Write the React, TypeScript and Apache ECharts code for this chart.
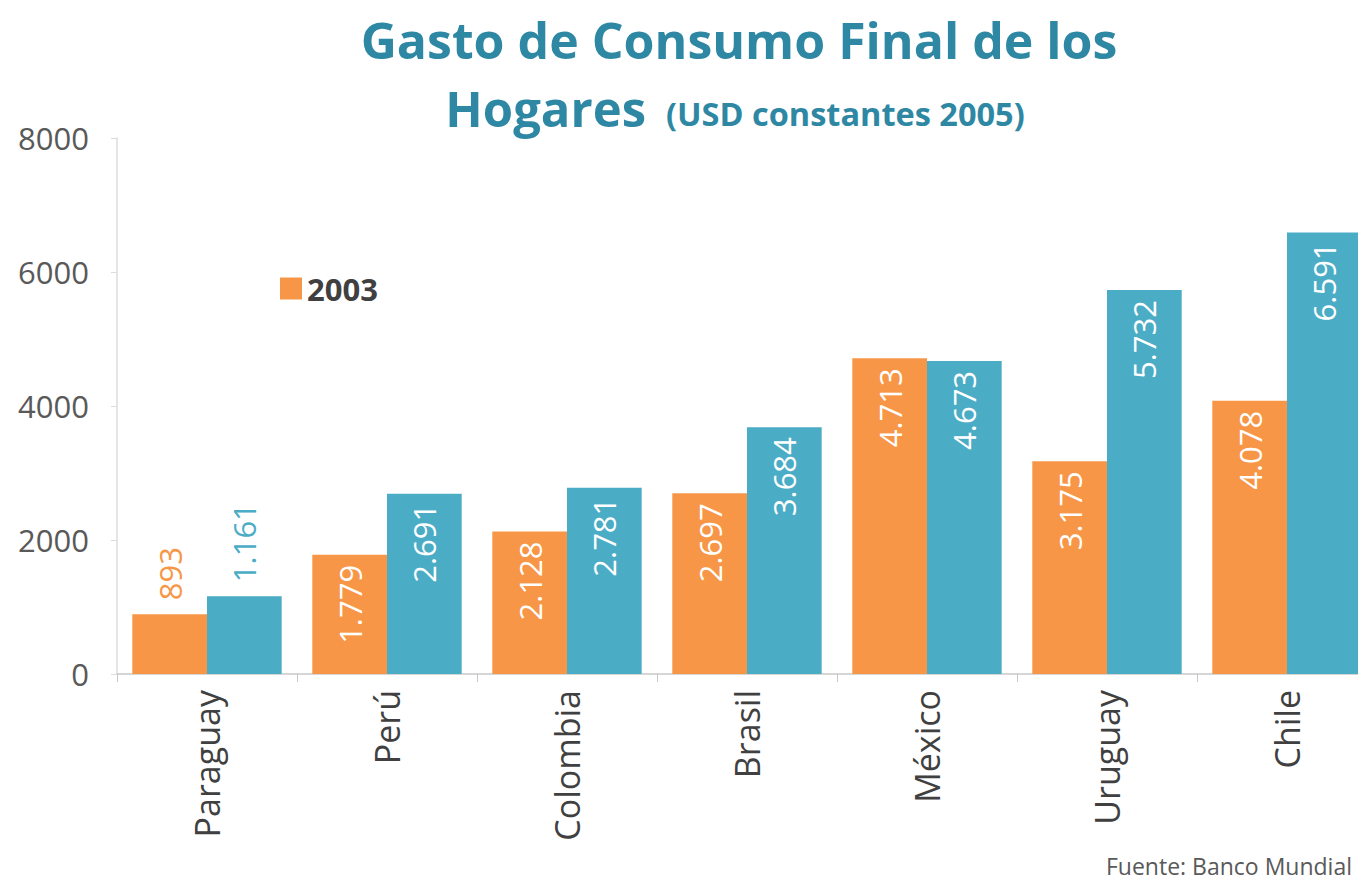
import React, { useEffect, useRef } from "react";
import * as echarts from "echarts";

const categories = ["Paraguay", "Perú", "Colombia", "Brasil", "México", "Uruguay", "Chile"];
const values2003 = [893, 1779, 2128, 2697, 4713, 3175, 4078];
const values2013 = [1161, 2691, 2781, 3684, 4673, 5732, 6591];
const seriesNames = ["2003", "2013"];
const yTicks = { min: 0, max: 8000, interval: 2000 };

const ORANGE = "#F79646";
const BLUE = "#4BACC6";
const FONT = "'Open Sans', 'Noto Sans', sans-serif";

const fmt = (v: number) => {
  const s = String(Math.round(v));
  return s.replace(/\B(?=(\d{3})+(?!\d))/g, ".");
};

const outsideIdx = [0];

function buildData(vals: number[], color: string) {
  return vals.map((v, i) =>
    outsideIdx.includes(i)
      ? {
          value: v,
          label: {
            position: "top",
            align: "left",
            color: color,
            distance: 14,
          },
        }
      : { value: v }
  );
}

export default function App() {
  const ref = useRef<HTMLDivElement>(null);
  useEffect(() => {
    if (!ref.current) return;
    const chart = echarts.init(ref.current, undefined, { renderer: "svg" });
    const labelBase = {
      show: true,
      position: "insideTop",
      rotate: 90,
      align: "right",
      verticalAlign: "middle",
      distance: 10,
      color: "#ffffff",
      fontSize: 31,
      fontFamily: FONT,
      formatter: (p: any) => fmt(p.value),
    };
    chart.setOption({
      animation: false,
      backgroundColor: "#ffffff",
      title: [
        {
          text: "Gasto de Consumo Final de los",
          left: 734,
          textAlign: "center",
          top: 10,
          textStyle: { fontSize: 50, fontWeight: "bold", color: "#2E88A3", fontFamily: FONT },
        },
        {
          text: "{a|Hogares}{b|(USD constantes 2005)}",
          left: 730,
          textAlign: "center",
          top: 78,
          textStyle: {
            fontFamily: FONT,
            rich: {
              a: { fontSize: 49, fontWeight: "bold", color: "#2E88A3", fontFamily: FONT },
              b: { fontSize: 32.5, fontWeight: "bold", color: "#2E88A3", fontFamily: FONT, padding: [12, 0, 0, 20] },
            },
          },
        },
      ],
      legend: {
        data: [seriesNames[0]],
        left: 275,
        top: 268,
        itemWidth: 22,
        itemHeight: 22,
        itemGap: 10,
        icon: "rect",
        textStyle: { fontSize: 31, fontWeight: "bold", color: "#404040", fontFamily: FONT },
      },
      graphic: [
        {
          type: "text",
          right: 6,
          bottom: 4,
          style: {
            text: "Fuente: Banco Mundial",
            fontSize: 23,
            fill: "#595959",
            fontFamily: FONT,
          },
        },
      ],
      grid: {
        left: 117,
        width: 1260,
        top: 138,
        height: 536,
        containLabel: false,
        outerBoundsMode: "none",
      },
      xAxis: {
        type: "category",
        data: categories,
        axisLine: { show: true, lineStyle: { color: "#c8c8c8", width: 1.5 } },
        axisTick: { show: true, length: 8, lineStyle: { color: "#c8c8c8" } },
        axisLabel: {
          rotate: 90,
          fontSize: 34,
          color: "#404040",
          fontFamily: FONT,
          margin: 16,
        },
      },
      yAxis: {
        type: "value",
        min: yTicks.min,
        max: yTicks.max,
        interval: yTicks.interval,
        splitLine: { show: false },
        axisLine: { show: true, lineStyle: { color: "#dcdcdc", width: 1.5 } },
        axisTick: { show: true, length: 6, lineStyle: { color: "#dcdcdc" } },
        axisLabel: {
          fontSize: 31,
          color: "#595959",
          fontFamily: FONT,
          margin: 28,
          formatter: (v: number) => String(v),
        },
      },
      series: [
        {
          name: seriesNames[0],
          type: "bar",
          data: buildData(values2003, ORANGE),
          itemStyle: { color: ORANGE },
          barGap: "0%",
          barCategoryGap: "17%",
          label: labelBase,
        },
        {
          name: seriesNames[1],
          type: "bar",
          data: buildData(values2013, BLUE),
          itemStyle: { color: BLUE },
          barGap: "0%",
          barCategoryGap: "17%",
          label: labelBase,
        },
      ],
    });
    return () => chart.dispose();
  }, []);
  return (
    <div
      ref={ref}
      style={{ position: "absolute", left: 0, top: 0, width: 1358, height: 881 }}
    />
  );
}
